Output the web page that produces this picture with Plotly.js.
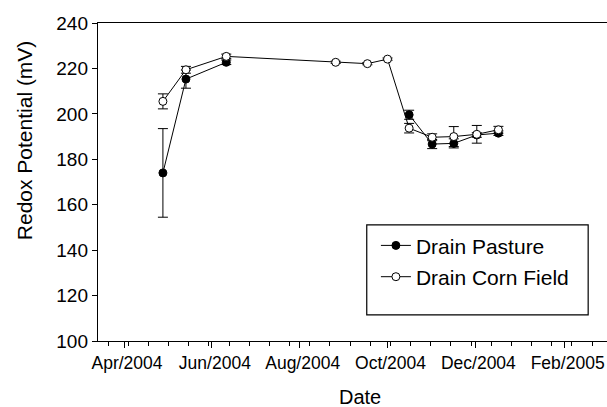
<!DOCTYPE html>
<html>
<head>
<meta charset="utf-8">
<script src="https://cdn.plot.ly/plotly-3.0.1.min.js"></script>
<style>html,body{margin:0;padding:0;background:#fff;}#chart{width:607px;height:407px;}</style>
</head>
<body>
<div id="chart"></div>
<script>
// Sampling dates (shared by both drains)
const dates = ['2004-04-28','2004-05-14','2004-06-11','2004-08-26','2004-09-17','2004-10-01',
               '2004-10-16','2004-11-01','2004-11-16','2004-12-02','2004-12-17'];
// Drain Pasture redox potential (mV) and error
const pasture    = [174, 215.3, 222.7, null, null, null, 199.6, 186.7, 187.0, 190.7, 191.5];
const pastureErr = [19.5, 4, 1, null, null, null, 2, 2, 2, 1, 1];
// Drain Corn Field redox potential (mV) and error
const corn    = [205.5, 219.4, 225.3, 222.7, 222.1, 224.1, 193.7, 189.7, 190.0, 191.0, 193.0];
const cornErr = [3.3, 1.5, 1, 0.5, 0.5, 0.5, 2.1, 1.5, 4.4, 3.9, 1.5];

const seriesNames = ['Drain Pasture', 'Drain Corn Field'];
const yTitle = 'Redox Potential (mV)';
const xTitle = 'Date';

const FONT = 'Liberation Sans, Arial, Helvetica, sans-serif';

const traces = [
  {
    x: dates, y: pasture, name: seriesNames[0], type: 'scatter', mode: 'lines+markers',
    legendgroup: 'a', connectgaps: false,
    line: {color: '#000', width: 1},
    marker: {symbol: 'circle', size: 8, color: '#000', line: {color: '#000', width: 1}},
    error_y: {type: 'data', array: pastureErr, visible: true, color: '#000', thickness: 1, width: 5}
  },
  {
    x: dates, y: corn, name: seriesNames[1], type: 'scatter', mode: 'lines+markers',
    legendgroup: 'b',
    line: {color: '#000', width: 1},
    marker: {symbol: 'circle', size: 8, color: '#fff', line: {color: '#000', width: 1}},
    error_y: {type: 'data', array: cornErr, visible: true, color: '#000', thickness: 1, width: 5}
  }
];

const layout = {
  width: 607, height: 407,
  margin: {l: 98, r: 0, t: 23, b: 66, pad: 0},
  paper_bgcolor: '#fff', plot_bgcolor: '#fff',
  font: {family: FONT, color: '#000'},
  showlegend: true,
  legend: {
    x: 0.546, y: 0.364, xanchor: 'left', yanchor: 'top',
    bgcolor: 'rgba(0,0,0,0)', borderwidth: 0,
    font: {family: FONT, size: 21, color: '#000'},
    tracegroupgap: 1
  },
  xaxis: {
    type: 'date',
    range: ['2004-03-13 22:00', '2005-03-02 10:00'],
    tick0: '2004-02-01', dtick: 'M2', tickformat: '%b/%Y',
    ticks: 'outside', ticklen: 6, tickwidth: 1, tickcolor: '#000',
    ticklabelshift: 3,
    minor: {ticks: 'outside', ticklen: 3.5, tickwidth: 1, tickcolor: '#000',
            dtick: 1209600000, tick0: '2004-03-21', showgrid: false},
    showline: true, linecolor: '#000', linewidth: 1.2, mirror: true,
    showgrid: false, zeroline: false,
    tickfont: {family: FONT, size: 17.5, color: '#000'},
    fixedrange: true
  },
  yaxis: {
    range: [100, 240], dtick: 20, tick0: 100,
    ticks: 'outside', ticklen: 5, tickwidth: 1, tickcolor: '#000',
    showline: true, linecolor: '#000', linewidth: 1.2, mirror: false,
    showgrid: false, zeroline: false,
    tickfont: {family: FONT, size: 19, color: '#000'},
    fixedrange: true
  },
  annotations: [
    {text: yTitle, xref: 'paper', yref: 'paper', x: -0.145, y: 0.632,
     xanchor: 'center', yanchor: 'middle', textangle: -90, showarrow: false,
     font: {family: FONT, size: 21, color: '#000'}},
    {text: xTitle, xref: 'paper', yref: 'paper', x: 0.515, y: -0.176,
     xanchor: 'center', yanchor: 'middle', showarrow: false,
     font: {family: FONT, size: 20, color: '#000'}}
  ],
  shapes: [
    {type: 'rect', xref: 'paper', yref: 'paper', x0: 0.528, x1: 0.963, y0: 0.082, y1: 0.365,
     line: {color: '#000', width: 1.2}, fillcolor: 'rgba(0,0,0,0)', layer: 'above'}
  ]
};

Plotly.newPlot('chart', traces, layout, {displayModeBar: false, staticPlot: true});
</script>
</body>
</html>
